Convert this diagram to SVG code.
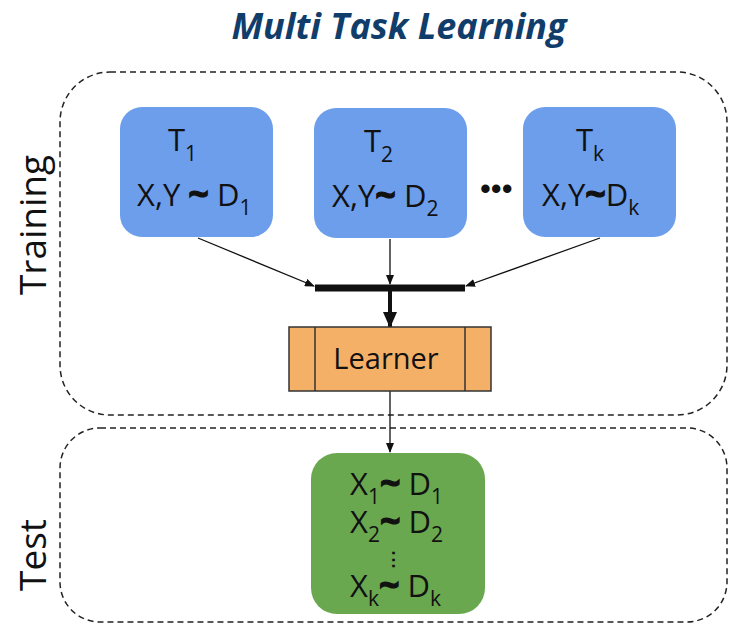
<svg xmlns="http://www.w3.org/2000/svg" width="739" height="634" viewBox="0 0 739 634">
<style>
text{font-family:"Open Sans","Liberation Sans",sans-serif;fill:#111}
.lbl{font-size:31px}
.sub{font-size:21px}
.til{font-weight:bold;font-size:36px;stroke:#111;stroke-width:1.2}
.vd{font-size:19px;font-weight:bold}
.frame{fill:none;stroke:#222;stroke-width:1.5;stroke-dasharray:6 4}
.task{fill:#6d9eeb}
.conn{stroke:#111;fill:none}
</style>
<defs>
<marker id="ah" markerWidth="10" markerHeight="8" refX="9" refY="4" orient="auto" markerUnits="userSpaceOnUse"><path d="M0,0 L10,4 L0,8 z" fill="#111"/></marker>
<marker id="ahb" markerWidth="16" markerHeight="14" refX="15" refY="7" orient="auto" markerUnits="userSpaceOnUse"><path d="M0,0 L16,7 L0,14 z" fill="#111"/></marker>
</defs>
<rect width="739" height="634" fill="#fff"/>
<text x="399" y="39" text-anchor="middle" style="font-family:'Open Sans','Liberation Sans',sans-serif;font-weight:bold;font-style:italic;font-size:36px;fill:#113d6b">Multi Task Learning</text>

<g id="training-frame">
<rect class="frame" x="60" y="72" width="667" height="343" rx="50"/>
<text transform="translate(46,225) rotate(-90)" text-anchor="middle" style="font-size:37px">Training</text>
</g>
<g id="test-frame">
<rect class="frame" x="60" y="428" width="667" height="194" rx="40"/>
<text transform="translate(46,555) rotate(-90)" text-anchor="middle" style="font-size:37px">Test</text>
</g>

<g id="task1">
<rect class="task" x="120" y="107" width="153" height="130" rx="22"/>
<text class="lbl" x="168" y="151">T<tspan class="sub" dy="10">1</tspan></text>
<text class="lbl" x="137" y="206">X,Y <tspan class="til" dy="1">~</tspan><tspan dy="-1"> D</tspan><tspan class="sub" dy="9">1</tspan></text>
</g>
<g id="task2">
<rect class="task" x="314" y="108" width="153" height="130" rx="22"/>
<text class="lbl" x="364" y="152">T<tspan class="sub" dy="10">2</tspan></text>
<text class="lbl" x="332" y="207">X,Y<tspan class="til" dy="1">~</tspan><tspan dy="-1"> D</tspan><tspan class="sub" dy="9">2</tspan></text>
</g>
<text x="480" y="199" style="font-size:31px;font-family:'Liberation Sans',sans-serif">•••</text>
<g id="taskk">
<rect class="task" x="523" y="107" width="153" height="130" rx="22"/>
<text class="lbl" x="576" y="151">T<tspan class="sub" dy="10">k</tspan></text>
<text class="lbl" x="542" y="206">X,Y<tspan class="til" dy="1">~</tspan><tspan dy="-1">D</tspan><tspan class="sub" dy="9">k</tspan></text>
</g>

<g id="connectors">
<line class="conn" x1="198" y1="238" x2="314" y2="286" stroke-width="1.3" marker-end="url(#ah)"/>
<line class="conn" x1="390" y1="239" x2="390" y2="284" stroke-width="1.3" marker-end="url(#ah)"/>
<line class="conn" x1="600" y1="238" x2="466" y2="286" stroke-width="1.3" marker-end="url(#ah)"/>
<line class="conn" x1="315" y1="288" x2="465" y2="288" stroke-width="7"/>
<line class="conn" x1="390" y1="290" x2="390" y2="327" stroke-width="4" marker-end="url(#ahb)"/>
<line class="conn" x1="390" y1="391" x2="390" y2="452" stroke-width="1.3" marker-end="url(#ah)"/>
</g>

<g id="learner">
<rect x="289" y="327" width="202" height="64" fill="#f5b068" stroke="#333" stroke-width="1.5"/>
<line x1="315" y1="327" x2="315" y2="391" stroke="#333" stroke-width="1.5"/>
<line x1="465" y1="327" x2="465" y2="391" stroke="#333" stroke-width="1.5"/>
<text x="386" y="369" text-anchor="middle" style="font-size:29px">Learner</text>
</g>

<g id="test-node">
<rect x="311" y="453" width="174" height="161" rx="26" fill="#6aa84f"/>
<text class="lbl"><tspan x="350" y="495">X</tspan><tspan class="sub" dy="9">1</tspan><tspan class="til" dy="-8">~</tspan><tspan dy="-1"> D</tspan><tspan class="sub" dy="9">1</tspan><tspan x="350" y="533">X</tspan><tspan class="sub" dy="9">2</tspan><tspan class="til" dy="-8">~</tspan><tspan dy="-1"> D</tspan><tspan class="sub" dy="9">2</tspan><tspan class="vd" x="384" y="566">⋮</tspan><tspan x="350" y="597">X</tspan><tspan class="sub" dy="9">k</tspan><tspan class="til" dy="-8">~</tspan><tspan dy="-1"> D</tspan><tspan class="sub" dy="9">k</tspan></text>
</g>
</svg>
